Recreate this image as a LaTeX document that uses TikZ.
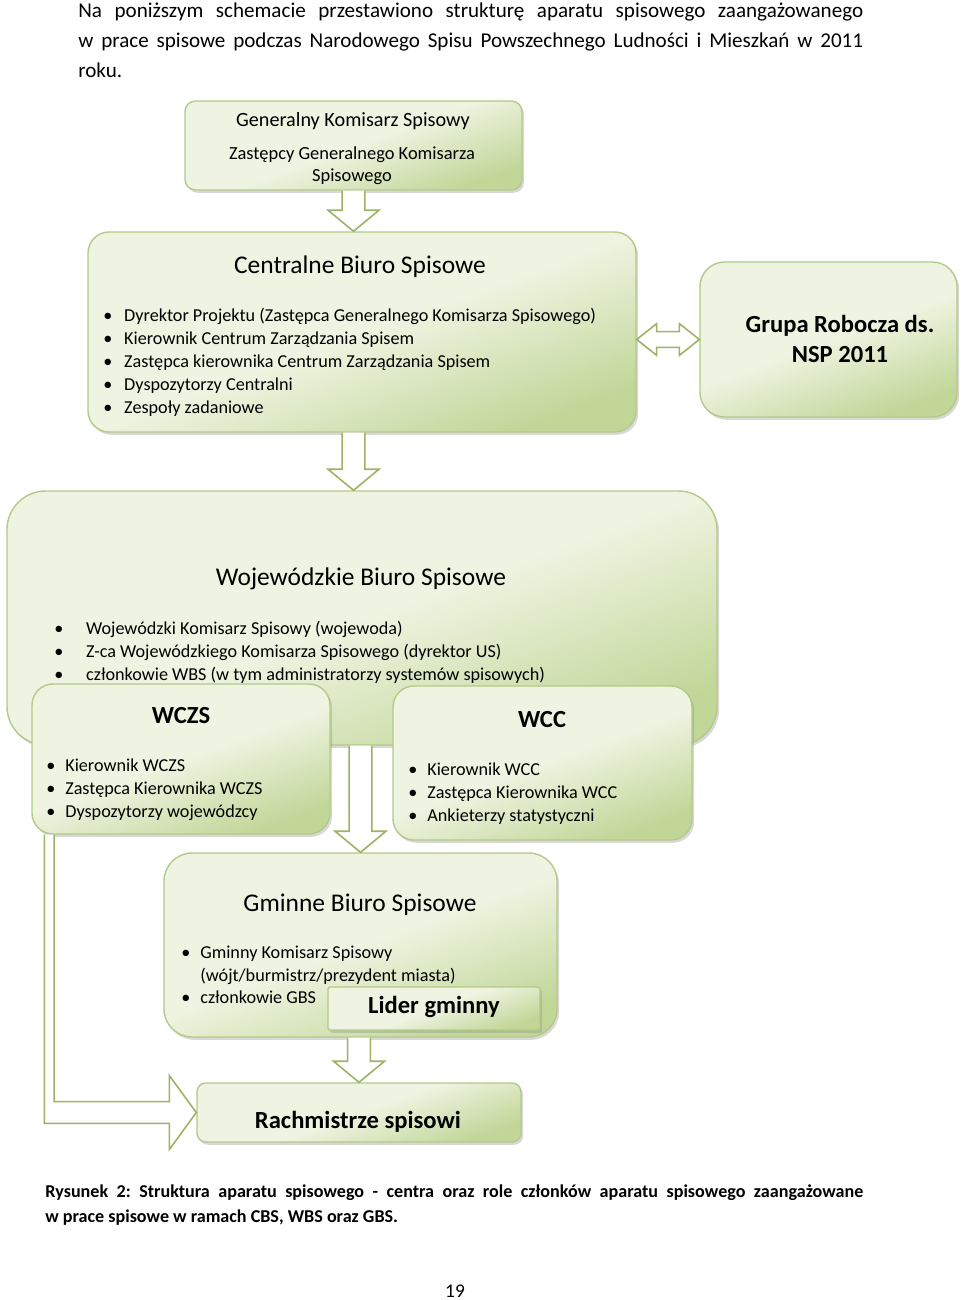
\documentclass[tikz,border=0pt]{standalone}
\usepackage{fontspec}
\setmainfont{Carlito}
\usepackage{tikz}
\usetikzlibrary{fit,calc,shadows}
\frenchspacing
\definecolor{jasny}{HTML}{EEF4E1}
\definecolor{ciemny}{HTML}{C2D698}
\definecolor{ramka}{HTML}{B3CA88}
\definecolor{strz}{HTML}{9BB463}
\tikzset{
	biuro/.style={draw=ramka,line width=0.8pt,rounded corners=#1,inner sep=0pt,
		top color=jasny,bottom color=ciemny,middle color=jasny,shading angle=20,
		drop shadow={opacity=0.3,shadow xshift=1.2pt,shadow yshift=-1.6pt}},
	biuro/.default=10pt,
	tytul/.style={font=\fontsize{14.5}{17}\selectfont,inner sep=0pt},
	wazny/.style={font=\fontsize{14}{17}\selectfont\bfseries,inner sep=0pt,align=center},
	lista/.style={font=\fontsize{10.35}{13}\selectfont,align=left,anchor=north west,inner sep=0pt},
	strzalka/.style={draw=strz,line width=0.9pt,fill=white}
}
\newcommand{\pkt}[2]{\makebox[#1][l]{\textbullet}#2}
\newcommand{\wdol}[2]{\draw[strzalka] let \p1=(#1), \p2=(#2) in
	(\x1-6.5pt,\y1) -- (\x1-6.5pt,\y2+12pt) -- (\x1-14.5pt,\y2+12pt) -- (\x1,\y2)
	-- (\x1+14.5pt,\y2+12pt) -- (\x1+6.5pt,\y2+12pt) -- (\x1+6.5pt,\y1);}

\begin{document}
\begin{tikzpicture}[x=0.02cm,y=-0.02cm]
	\fill[white] (0,0) rectangle (960,1300);
	\useasboundingbox (0,0) rectangle (960,1300);

	\node[lista,font=\fontsize{12}{17}\selectfont] (wstep) at (78,3)
		{\makebox[446.7pt][s]{Na poniższym schemacie przestawiono strukturę aparatu spisowego zaangażowanego}\\
		 \makebox[446.7pt][s]{w prace spisowe podczas Narodowego Spisu Powszechnego Ludności i Mieszkań w 2011}\\
		 roku.};

	\node[biuro=6pt,fit={(185,101) (522,190)}] (gks) {};
	\node[inner sep=0pt,font=\fontsize{11.5}{14}\selectfont] (gkst) at (353,121) {Generalny Komisarz Spisowy};
	\node[inner sep=0pt,font=\fontsize{10.5}{12.5}\selectfont,align=center] (gksz) at (352,166)
		{Zastępcy Generalnego Komisarza\\Spisowego};

	\node[biuro=12pt,fit={(88,232) (636,432)}] (cbs) {};
	\node[tytul] (cbst) at (360,267) {Centralne Biuro Spisowe};
	\node[lista] (cbsl) at (103,308)
		{\pkt{11.9pt}{Dyrektor Projektu (Zastępca Generalnego Komisarza Spisowego)}\\
		 \pkt{11.9pt}{Kierownik Centrum Zarządzania Spisem}\\
		 \pkt{11.9pt}{Zastępca kierownika Centrum Zarządzania Spisem}\\
		 \pkt{11.9pt}{Dyspozytorzy Centralni}\\
		 \pkt{11.9pt}{Zespoły zadaniowe}};

	\node[biuro=14pt,fit={(700,262) (957,417)}] (grupa) {};
	\node[wazny] (grupat) at (840,339) {Grupa Robocza ds.\\NSP 2011};

	\node[biuro=22pt,fit={(7,491) (717,745)}] (wbs) {};
	\node[tytul] (wbst) at (361,579) {Wojewódzkie Biuro Spisowe};
	\node[lista] (wbsl) at (54,621)
		{\pkt{18.1pt}{Wojewódzki Komisarz Spisowy (wojewoda)}\\
		 \pkt{18.1pt}{Z-ca Wojewódzkiego Komisarza Spisowego (dyrektor US)}\\
		 \pkt{18.1pt}{członkowie WBS (w tym administratorzy systemów spisowych)}};

	\node[biuro=12pt,fit={(32,684) (330,834)}] (wczs) {};
	\node[wazny] (wczst) at (181,716) {WCZS};
	\node[lista] (wczsl) at (46,759)
		{\pkt{10.8pt}{Kierownik WCZS}\\
		 \pkt{10.8pt}{Zastępca Kierownika WCZS}\\
		 \pkt{10.8pt}{Dyspozytorzy wojewódzcy}};

	\node[biuro=12pt,fit={(393,686) (692,840)}] (wcc) {};
	\node[wazny] (wcct) at (542,720) {WCC};
	\node[lista] (wccl) at (408,763)
		{\pkt{10.8pt}{Kierownik WCC}\\
		 \pkt{10.8pt}{Zastępca Kierownika WCC}\\
		 \pkt{10.8pt}{Ankieterzy statystyczni}};

	\node[biuro=16pt,fit={(164,853) (557,1037)}] (gbs) {};
	\node[tytul] (gbst) at (360,905) {Gminne Biuro Spisowe};
	\node[lista,font=\fontsize{10.35}{12.75}\selectfont] (gbsl) at (181,946)
		{\pkt{10.8pt}{Gminny Komisarz Spisowy}\\
		 \hspace*{10.8pt}(wójt/burmistrz/prezydent miasta)\\
		 \pkt{10.8pt}{członkowie GBS}};

	\node[biuro=1pt,fit={(328,987) (540,1030)}] (lider) {};
	\node[wazny] (lidert) at (434,1007) {Lider gminny};

	\node[biuro=5pt,fit={(197,1083) (521,1142)}] (rach) {};
	\node[wazny] (racht) at (358,1122) {Rachmistrze spisowi};

	\wdol{gks.south}{cbs.north}
	\wdol{cbs.south -| gks.south}{wbs.north}
	\wdol{wbs.south -| gbs.north}{gbs.north}
	\wdol{gbs.south -| rach.north}{rach.north}

	\draw[strzalka] let \p1=(cbs.east |- grupa.west), \p2=(grupa.west) in
		(\x1,\y1) -- (\x1+11.3pt,\y1+9pt) -- (\x1+11.3pt,\y1+4.5pt) -- (\x2-11.3pt,\y1+4.5pt)
		-- (\x2-11.3pt,\y1+9pt) -- (\x2,\y1) -- (\x2-11.3pt,\y1-9pt) -- (\x2-11.3pt,\y1-4.5pt)
		-- (\x1+11.3pt,\y1-4.5pt) -- (\x1+11.3pt,\y1-9pt) -- cycle;

	\draw[strzalka] let \p1=(wczs.south west), \p2=(rach.west) in
		(\x1+7.4pt,\y1) -- (\x1+7.4pt,\y2-6.2pt) -- (\x2-15.3pt,\y2-6.2pt) -- (\x2-15.3pt,\y2-21pt)
		-- (\x2,\y2) -- (\x2-15.3pt,\y2+21pt) -- (\x2-15.3pt,\y2+6.2pt) -- (\x1+13pt,\y2+6.2pt)
		-- (\x1+13pt,\y1);

	\node[lista,font=\fontsize{10.3}{14.7}\selectfont\bfseries] (podpis) at (45,1184)
		{\makebox[465.5pt][s]{Rysunek 2: Struktura aparatu spisowego - centra oraz role członków aparatu spisowego zaangażowane}\\
		 w prace spisowe w ramach CBS, WBS oraz GBS.};
	\node[inner sep=0pt,font=\fontsize{11}{13}\selectfont] (strona) at (455,1291) {19};
\end{tikzpicture}
\end{document}
